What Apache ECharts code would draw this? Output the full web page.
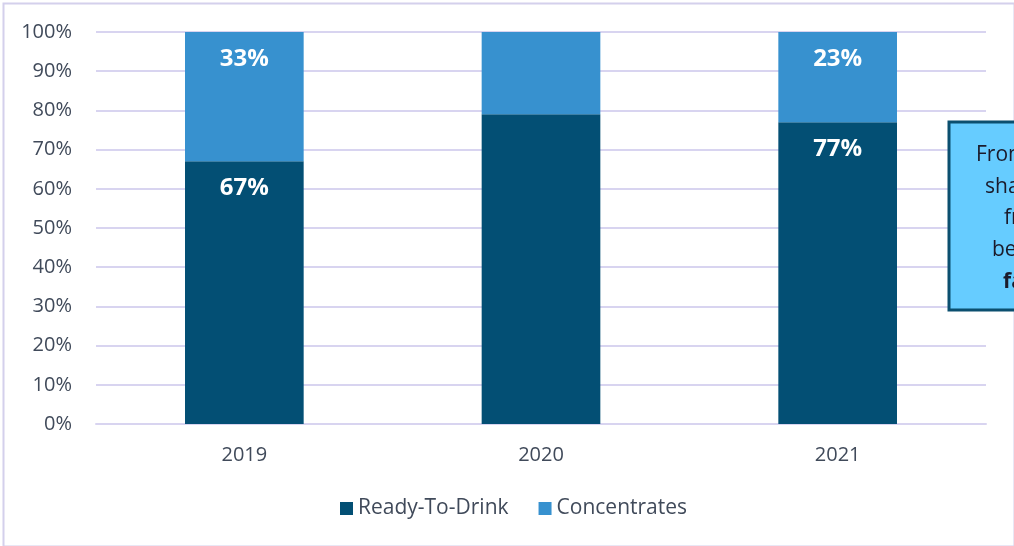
<!DOCTYPE html>
<html>
<head>
<meta charset="utf-8">
<style>
html,body{margin:0;padding:0;background:#fff;}
#chart{width:1014px;height:546px;}
</style>
<script src="https://cdn.jsdelivr.net/npm/echarts@6/dist/echarts.min.js"></script>
</head>
<body>
<div id="chart"></div>
<script>
var categories = ['2019', '2020', '2021'];
var readyToDrink = [67, 79, 77];
var concentrates = [33, 21, 23];
var showLabel = [true, false, true];
var yTicks = [0, 10, 20, 30, 40, 50, 60, 70, 80, 90, 100];
var noteLines = ['From 2019 to 2021, the', 'share of Ready-To-Drink', 'fruit juices has', 'been growing', 'fast'];

var chart = echarts.init(document.getElementById('chart'), null, {renderer: 'canvas'});

function mk(vals) {
  return vals.map(function (v, i) {
    return {value: v, label: {show: showLabel[i]}};
  });
}

var labelStyle = {
  show: true,
  position: 'insideTop',
  distance: 15,
  color: '#ffffff',
  fontFamily: 'Open Sans',
  fontWeight: 'bold',
  fontSize: 24,
  formatter: '{c}%'
};

var lineX = [976, 985, 1004, 992, 1003];
var graphics = [
  {type: 'rect', left: 1, top: 1, shape: {x: 0, y: 0, width: 1011, height: 543},
   style: {fill: 'none', stroke: '#d4d0ec', lineWidth: 2}, silent: true, z: -1},
  {type: 'rect', shape: {x: 949, y: 122, width: 120, height: 188},
   style: {fill: '#66ccff', stroke: '#0b4f6f', lineWidth: 3}, z: 10}
];
noteLines.forEach(function (t, i) {
  graphics.push({
    type: 'text', x: lineX[i], y: 155 + i * 31.7, z: 11,
    style: {text: t, fill: '#1b1b2b', font: (i === 4 ? 'bold ' : '') + '21px Open Sans',
            textAlign: 'left', textVerticalAlign: 'middle'}
  });
});

chart.setOption({
  animation: false,
  grid: {left: 96, right: 28, top: 32, bottom: 122, containLabel: false},
  legend: {
    bottom: 22, left: 335, itemWidth: 13, itemHeight: 13, itemGap: 30,
    icon: 'rect',
    textStyle: {color: '#404a5a', fontSize: 21, fontFamily: 'Open Sans'},
    data: ['Ready-To-Drink', 'Concentrates']
  },
  xAxis: {
    type: 'category', data: categories,
    axisLine: {show: true, lineStyle: {color: '#d8d4f0', width: 2}},
    axisTick: {show: false},
    axisLabel: {color: '#404a5a', fontSize: 20, fontFamily: 'Open Sans', margin: 21}
  },
  yAxis: {
    type: 'value', min: 0, max: 100, interval: 10,
    axisLine: {show: false}, axisTick: {show: false},
    splitLine: {lineStyle: {color: '#d8d4f0', width: 2}},
    axisLabel: {color: '#404a5a', fontSize: 20, fontFamily: 'Open Sans', margin: 24,
                formatter: function (v) { return yTicks.indexOf(v) >= 0 ? v + '%' : ''; }}
  },
  series: [
    {name: 'Ready-To-Drink', type: 'bar', stack: 's', data: mk(readyToDrink),
     barCategoryGap: '60%', itemStyle: {color: '#034f74'}, label: labelStyle},
    {name: 'Concentrates', type: 'bar', stack: 's', data: mk(concentrates),
     barCategoryGap: '60%', itemStyle: {color: '#3791cf'}, label: labelStyle}
  ],
  graphic: graphics
});
</script>
</body>
</html>
